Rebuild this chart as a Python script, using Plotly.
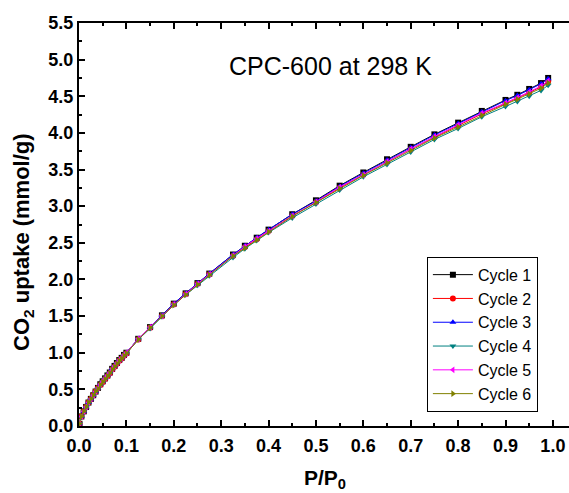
import plotly.graph_objects as go

pressure = [0.001, 0.005, 0.01, 0.015, 0.02, 0.025, 0.03, 0.035, 0.04, 0.045, 0.05,
            0.055, 0.06, 0.065, 0.07, 0.075, 0.08, 0.085, 0.09, 0.095, 0.1,
            0.125, 0.15, 0.175, 0.2, 0.225, 0.25, 0.275, 0.325, 0.35, 0.375, 0.4,
            0.45, 0.5, 0.55, 0.6, 0.65, 0.7, 0.75, 0.8, 0.85, 0.9, 0.925, 0.95, 0.975, 0.99]

cycle1 = [0.03,0.13,0.20,0.26,0.32,0.37,0.42,0.47,0.52,0.57,0.61,0.65,0.69,0.73,0.78,0.82,0.86,0.90,0.93,0.97,1.00,
          1.19,1.35,1.51,1.67,1.81,1.95,2.08,2.34,2.46,2.57,2.68,2.89,3.08,3.28,3.46,3.64,3.81,3.98,4.14,4.30,4.45,4.52,4.60,4.68,4.75]
cycle2 = [0.03,0.13,0.20,0.26,0.32,0.37,0.42,0.47,0.52,0.56,0.60,0.64,0.68,0.72,0.77,0.81,0.85,0.89,0.92,0.96,0.99,
          1.18,1.34,1.50,1.66,1.80,1.94,2.07,2.32,2.44,2.55,2.66,2.87,3.05,3.25,3.43,3.61,3.78,3.94,4.10,4.26,4.40,4.47,4.55,4.63,4.70]
cycle3 = [0.03,0.13,0.20,0.26,0.32,0.37,0.42,0.47,0.52,0.57,0.61,0.65,0.69,0.73,0.78,0.82,0.86,0.90,0.93,0.97,1.00,
          1.19,1.35,1.51,1.67,1.81,1.95,2.08,2.34,2.46,2.57,2.68,2.89,3.07,3.27,3.45,3.63,3.80,3.97,4.13,4.29,4.44,4.51,4.59,4.67,4.74]
cycle4 = [0.03,0.12,0.19,0.25,0.31,0.36,0.41,0.46,0.51,0.56,0.60,0.64,0.68,0.72,0.77,0.81,0.85,0.89,0.92,0.96,0.99,
          1.18,1.33,1.49,1.65,1.79,1.92,2.05,2.30,2.42,2.53,2.64,2.84,3.03,3.22,3.40,3.57,3.74,3.91,4.06,4.22,4.36,4.43,4.50,4.58,4.65]
cycle5 = [0.03,0.13,0.20,0.26,0.32,0.37,0.42,0.47,0.52,0.57,0.61,0.65,0.69,0.73,0.78,0.82,0.86,0.90,0.93,0.97,1.00,
          1.19,1.35,1.50,1.66,1.80,1.94,2.07,2.33,2.45,2.56,2.66,2.87,3.06,3.26,3.43,3.61,3.78,3.95,4.11,4.27,4.41,4.48,4.56,4.64,4.71]
cycle6 = [0.03,0.13,0.20,0.26,0.32,0.37,0.42,0.47,0.51,0.56,0.60,0.64,0.68,0.72,0.77,0.81,0.85,0.89,0.92,0.96,0.99,
          1.18,1.34,1.50,1.65,1.79,1.93,2.06,2.32,2.43,2.54,2.65,2.86,3.05,3.24,3.42,3.59,3.76,3.93,4.08,4.24,4.39,4.46,4.53,4.61,4.68]

names = ["Cycle 1", "Cycle 2", "Cycle 3", "Cycle 4", "Cycle 5", "Cycle 6"]
series = [cycle1, cycle2, cycle3, cycle4, cycle5, cycle6]
colors = ["#000000", "#FF0000", "#0000FF", "#008080", "#FF00FF", "#808000"]
symbols = ["square", "circle", "triangle-up", "triangle-down", "triangle-left", "triangle-right"]

FONT = "Liberation Sans, Arial, sans-serif"

fig = go.Figure()
for n, s, c, m in zip(names, series, colors, symbols):
    fig.add_trace(go.Scatter(
        x=pressure, y=s, name=n, mode="lines+markers",
        line=dict(color=c, width=1),
        marker=dict(symbol=m, size=6, color=c, line=dict(width=0)),
    ))

fig.update_layout(
    width=569, height=493,
    margin=dict(l=79, r=0, t=23, b=67),
    paper_bgcolor="white", plot_bgcolor="white",
    font=dict(family=FONT, color="black"),
    showlegend=True,
    legend=dict(
        x=0.71, y=0.42, xanchor="left", yanchor="top",
        bordercolor="black", borderwidth=1, bgcolor="white",
        font=dict(family=FONT, size=16, color="black"),
        tracegroupgap=0, itemwidth=40,
    ),
    annotations=[
        dict(text="CPC-600 at 298 K", x=0.514, y=0.893, xref="paper", yref="paper",
             xanchor="center", yanchor="middle", showarrow=False,
             font=dict(family=FONT, size=25, color="black")),
        dict(text="CO<sub>2</sub> uptake (mmol/g)", x=-0.114, y=0.457, xref="paper", yref="paper",
             xanchor="center", yanchor="middle", textangle=-90, showarrow=False,
             font=dict(family=FONT, size=22, color="black", weight="bold")),
        dict(text="P/P<sub>0</sub>", x=0.502, y=-0.132, xref="paper", yref="paper",
             xanchor="center", yanchor="middle", showarrow=False,
             font=dict(family=FONT, size=21, color="black", weight="bold")),
    ],
)

fig.update_xaxes(
    range=[0, 1.034], dtick=0.1, tick0=0, tickformat=".1f",
    showgrid=False, zeroline=False,
    showline=True, linecolor="black", linewidth=2, mirror="ticks",
    ticks="inside", ticklen=6, tickwidth=2, tickcolor="black",
    minor=dict(dtick=0.05, ticks="inside", ticklen=3, tickwidth=2, tickcolor="black"),
    tickfont=dict(family=FONT, size=18, color="black", weight="bold"),
    ticklabelstandoff=2,
)
fig.update_yaxes(
    range=[0, 5.5], dtick=0.5, tick0=0, tickformat=".1f",
    showgrid=False, zeroline=False,
    showline=True, linecolor="black", linewidth=2, mirror=False,
    ticks="inside", ticklen=6, tickwidth=2, tickcolor="black",
    minor=dict(dtick=0.25, ticks="inside", ticklen=3, tickwidth=2, tickcolor="black"),
    tickfont=dict(family=FONT, size=18, color="black", weight="bold"),
)

fig.write_html("out.html")
